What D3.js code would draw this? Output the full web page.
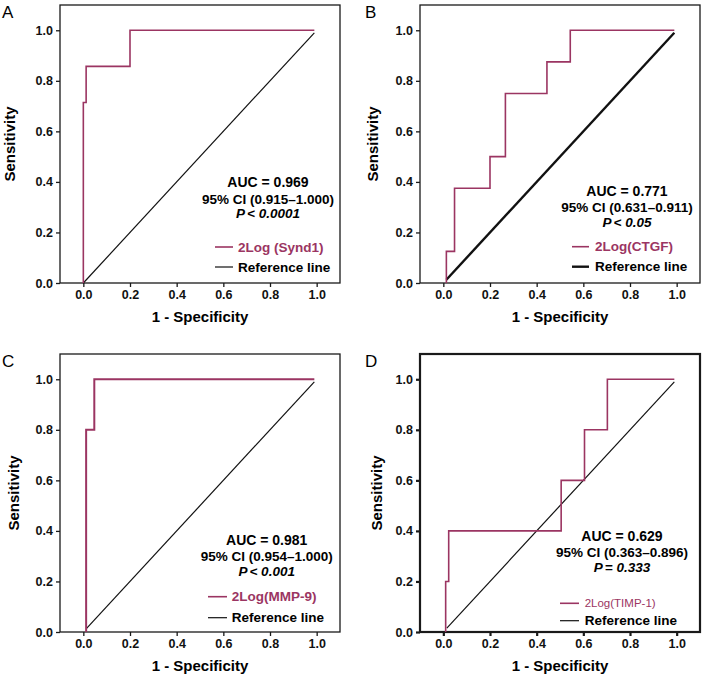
<!DOCTYPE html>
<html>
<head>
<meta charset="utf-8">
<script src="https://cdn.jsdelivr.net/npm/d3@7.9.0/dist/d3.min.js"></script>
<style>
  body { margin: 0; background: #fff; }
  svg { display: block; font-family: "Liberation Sans", Arial, sans-serif; }
</style>
</head>
<body>
<div id="chart"></div>
<script>
// step points of each ROC curve (1 - specificity, sensitivity)
const synd1X = [0, 0, 0.012, 0.012, 0.2, 0.2, 0.99];
const synd1Y = [0, 0.714, 0.714, 0.857, 0.857, 1, 1];

const ctgfX = [0.013, 0.013, 0.048, 0.048, 0.2, 0.2, 0.266, 0.266, 0.444, 0.444, 0.544, 0.544, 0.99];
const ctgfY = [0, 0.125, 0.125, 0.375, 0.375, 0.5, 0.5, 0.75, 0.75, 0.875, 0.875, 1, 1];

const mmp9X = [0.012, 0.012, 0.047, 0.047, 0.99];
const mmp9Y = [0, 0.8, 0.8, 1, 1];

const timp1X = [0.01, 0.01, 0.023, 0.023, 0.505, 0.505, 0.605, 0.605, 0.703, 0.703, 0.99];
const timp1Y = [0, 0.2, 0.2, 0.4, 0.4, 0.6, 0.6, 0.8, 0.8, 1, 1];

// reference (chance) lines
const refStart = [0, 0.013, 0.013, 0.015];
const refEnd = 0.99;

const panelLetters = ['A', 'B', 'C', 'D'];
const seriesNames = ['2Log (Synd1)', '2Log(CTGF)', '2Log(MMP-9)', '2Log(TIMP-1)'];
const aucLabels = ['AUC = 0.969', 'AUC = 0.771', 'AUC = 0.981', 'AUC = 0.629'];
const ciLabels = ['95% CI (0.915\u20131.000)', '95% CI (0.631\u20130.911)', '95% CI (0.954\u20131.000)', '95% CI (0.363\u20130.896)'];
const pLabels = [['P', '< 0.0001'], ['P', '< 0.05'], ['P', '< 0.001'], ['P', '= 0.333']];
const ticks = [0, 0.2, 0.4, 0.6, 0.8, 1.0];

const curveColor = '#9b3562';
const width = 704, height = 680;
const plotW = 280, plotH = 278;

// layout per panel (pixels)
const panels = [
  { left: 60,  top: 5,   xs: synd1X, ys: synd1Y, frame: 1.3, curve: 1.6, ref: 1.2, ylab: 50,
    note: { x: 208, y: [182, 198.5, 213] }, leg: { x0: 155, x1: 173, tx: 178, y: [242, 262], size: 13.5, weight: 'bold' } },
  { left: 420, top: 5,   xs: ctgfX, ys: ctgfY, frame: 1.3, curve: 1.6, ref: 2.4, ylab: 47,
    note: { x: 207, y: [191, 207, 221.5] }, leg: { x0: 152, x1: 169, tx: 175, y: [241.7, 261.7], size: 13.5, weight: 'bold' } },
  { left: 60,  top: 354, xs: mmp9X, ys: mmp9Y, frame: 1.3, curve: 2, ref: 1.2, ylab: 46,
    note: { x: 206.7, y: [190.5, 207, 222] }, leg: { x0: 148, x1: 167, tx: 171.7, y: [242.7, 263.7], size: 13.5, weight: 'bold' } },
  { left: 420, top: 354, xs: timp1X, ys: timp1Y, frame: 2.2, curve: 1.6, ref: 1.2, ylab: 43,
    note: { x: 202, y: [187, 203, 218] }, leg: { x0: 140, x1: 159, tx: 164.7, y: [249.3, 266.7], size: 11.5, weight: 'normal' } },
];

const svg = d3.select('#chart').append('svg')
  .attr('width', width)
  .attr('height', height);

const x = d3.scaleLinear().domain([-0.1, 1.1]).range([0, plotW]);
const y = d3.scaleLinear().domain([0, 1.1]).range([plotH, 0]);

const line = d3.line().x(d => x(d[0])).y(d => y(d[1]));

panels.forEach((p, i) => drawPanel(p, i));

function drawPanel(p, i) {
  const g = svg.append('g').attr('transform', `translate(${p.left},${p.top})`);

  // panel letter
  svg.append('text')
    .attr('x', p.left < 300 ? 2 : 365)
    .attr('y', p.top + 13)
    .attr('font-size', 17)
    .text(panelLetters[i]);

  // frame
  g.append('rect')
    .attr('width', plotW).attr('height', plotH)
    .attr('fill', 'none').attr('stroke', '#1a1a1a').attr('stroke-width', p.frame);

  const xAxis = d3.axisBottom(x).tickValues(ticks).tickFormat(d3.format('.1f')).tickSize(4).tickPadding(3);
  const yAxis = d3.axisLeft(y).tickValues(ticks).tickFormat(d3.format('.1f')).tickSize(4).tickPadding(3);

  g.append('g').attr('transform', `translate(0,${plotH})`).call(xAxis).call(styleAxis, p.frame);
  g.append('g').call(yAxis).call(styleAxis, p.frame);

  // reference line
  const r0 = refStart[i];
  g.append('path')
    .datum([[r0, r0], [refEnd, refEnd]])
    .attr('d', line)
    .attr('fill', 'none').attr('stroke', '#111').attr('stroke-width', p.ref);

  // ROC curve
  g.append('path')
    .datum(d3.zip(p.xs, p.ys))
    .attr('d', line)
    .attr('fill', 'none').attr('stroke', curveColor).attr('stroke-width', p.curve);

  // axis titles
  g.append('text')
    .attr('transform', `translate(${-p.ylab},${plotH / 2}) rotate(-90)`)
    .attr('text-anchor', 'middle').attr('dy', '0.35em')
    .attr('font-size', 15).attr('font-weight', 'bold')
    .text('Sensitivity');

  g.append('text')
    .attr('x', plotW / 2).attr('y', plotH + 39)
    .attr('text-anchor', 'middle')
    .attr('font-size', 15).attr('font-weight', 'bold')
    .text('1 - Specificity');

  // AUC annotation
  const note = g.append('g').attr('font-size', 13.5).attr('font-weight', 'bold').attr('text-anchor', 'middle');
  note.append('text').attr('x', p.note.x).attr('y', p.note.y[0]).attr('font-size', 14).text(aucLabels[i]);
  note.append('text').attr('x', p.note.x).attr('y', p.note.y[1]).text(ciLabels[i]);
  const pt = note.append('text').attr('x', p.note.x).attr('y', p.note.y[2]).attr('font-style', 'italic');
  pt.append('tspan').text(pLabels[i][0]);
  pt.append('tspan').attr('dx', 2).text(pLabels[i][1]);

  // legend
  const leg = g.append('g');
  leg.append('line')
    .attr('x1', p.leg.x0).attr('x2', p.leg.x1).attr('y1', p.leg.y[0]).attr('y2', p.leg.y[0])
    .attr('stroke', curveColor).attr('stroke-width', 1.6);
  leg.append('text')
    .attr('x', p.leg.tx).attr('y', p.leg.y[0]).attr('dy', '0.35em')
    .attr('font-size', p.leg.size).attr('font-weight', p.leg.weight)
    .attr('fill', curveColor)
    .text(seriesNames[i]);
  leg.append('line')
    .attr('x1', p.leg.x0).attr('x2', p.leg.x1).attr('y1', p.leg.y[1]).attr('y2', p.leg.y[1])
    .attr('stroke', '#111').attr('stroke-width', p.ref);
  leg.append('text')
    .attr('x', p.leg.tx).attr('y', p.leg.y[1]).attr('dy', '0.35em')
    .attr('font-size', 13.5).attr('font-weight', 'bold')
    .text('Reference line');
}

function styleAxis(sel, w) {
  sel.select('.domain').remove();
  sel.selectAll('.tick line').attr('stroke', '#1a1a1a').attr('stroke-width', w);
  sel.selectAll('.tick text')
    .attr('font-size', 12.5).attr('font-weight', 'bold')
    .attr('font-family', '"Liberation Sans", Arial, sans-serif')
    .attr('fill', '#111');
}
</script>
</body>
</html>
